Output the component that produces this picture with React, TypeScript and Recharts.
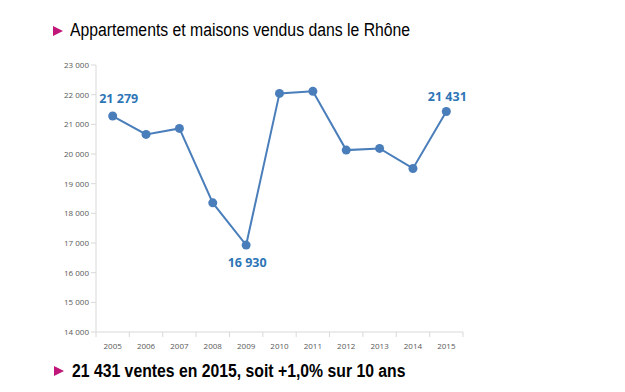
import React from "react";
import { LineChart, Line, XAxis, YAxis, LabelList } from "recharts";

const years = [2005, 2006, 2007, 2008, 2009, 2010, 2011, 2012, 2013, 2014, 2015];
const sales = [21279, 20660, 20863, 18353, 16930, 22043, 22112, 20131, 20188, 19513, 21431];
const labelledYears = [2005, 2009, 2015];
const yTicks = [14000, 15000, 16000, 17000, 18000, 19000, 20000, 21000, 22000, 23000];
const boundaryTicks = [2004.5, 2005.5, 2006.5, 2007.5, 2008.5, 2009.5, 2010.5, 2011.5, 2012.5, 2013.5, 2014.5, 2015.5];
const title = "Appartements et maisons vendus dans le Rhône";
const footer = "21 431 ventes en 2015, soit +1,0% sur 10 ans";

const data = years.map((y, i) => ({ year: y, value: sales[i] }));

const fmt = (v: number) => String(v).replace(/\B(?=(\d{3})+(?!\d))/g, "\u00A0");

const LINE = "#4a7ebb";
const LABEL = "#2e75b6";
const AXIS = "#d9d9d9";
const TICK = "#595959";
const MAGENTA = "#c0167a";

const W = 625;
const H = 392;
const M_LEFT = 56;
const Y_W = 40;
const M_RIGHT = 162;
const PLOT_W = W - M_LEFT - Y_W - M_RIGHT;
const HALF_CAT = PLOT_W / years.length / 2;

const minVal = Math.min(...sales);

const PointLabel = (props: any) => {
  const { x, y, value, index } = props;
  const yr = years[index];
  if (!labelledYears.includes(yr)) return null;
  const below = value === minVal;
  const isLast = index === years.length - 1;
  const dx = index === 0 ? 6 : 1;
  const dy = below ? 22 : isLast ? -11 : -13;
  return (
    <text
      x={x + dx}
      y={y + dy}
      textAnchor="middle"
      fill={LABEL}
      fontSize={12.5}
      fontWeight="bold"
      fontFamily="'Open Sans', 'Liberation Sans', sans-serif"
    >
      {fmt(value)}
    </text>
  );
};

const YearTick = (props: any) => {
  const { x, y, index } = props;
  if (index >= years.length) return null;
  const label = String(years[index]);
  return (
    <text
      x={x + HALF_CAT}
      y={y + 10}
      textAnchor="middle"
      fill={TICK}
      fontSize={8}
      fontFamily="'Open Sans', 'Liberation Sans', sans-serif"
    >
      {label}
    </text>
  );
};

const Arrow = ({ top, left }: { top: number; left: number }) => (
  <svg style={{ position: "absolute", top, left }} width={10} height={10}>
    <polygon points="0,0 10,5 0,10" fill={MAGENTA} />
  </svg>
);

const textStyle: React.CSSProperties = {
  position: "absolute",
  fontFamily: "'Liberation Sans', Arial, sans-serif",
  fontSize: 18,
  color: "#000",
  whiteSpace: "nowrap",
  transform: "scaleX(0.876)",
  transformOrigin: "left center",
  lineHeight: "20px",
};

export default function App() {
  return (
    <div style={{ position: "absolute", left: 0, top: 0, width: W, height: H, background: "#fff", overflow: "hidden" }}>
      <Arrow top={26} left={53} />
      <div style={{ ...textStyle, left: 70, top: 20 }}>{title}</div>
      <div style={{ position: "absolute", left: 0, top: 0 }}>
        <LineChart
          width={W}
          height={H}
          data={data}
          margin={{ top: 65, left: M_LEFT, right: M_RIGHT, bottom: 40 }}
        >
          <XAxis
            dataKey="year"
            type="number"
            domain={[2004.5, 2015.5]}
            ticks={boundaryTicks}
            interval={0}
            tick={<YearTick />}
            tickSize={5}
            tickLine={{ stroke: AXIS }}
            axisLine={{ stroke: AXIS }}
            height={20}
            allowDataOverflow
          />
          <YAxis
            domain={[14000, 23000]}
            ticks={yTicks}
            interval={0}
            tickFormatter={fmt}
            tickSize={5}
            tickLine={{ stroke: AXIS }}
            axisLine={{ stroke: AXIS }}
            tick={{ fill: TICK, fontSize: 8, fontFamily: "'Open Sans', 'Liberation Sans', sans-serif" }}
            tickMargin={2}
            width={Y_W}
          />
          <Line
            dataKey="value"
            stroke={LINE}
            strokeWidth={2}
            dot={{ r: 4.5, fill: LINE, stroke: LINE, strokeWidth: 0 }}
            isAnimationActive={false}
          >
            <LabelList dataKey="value" content={<PointLabel />} />
          </Line>
        </LineChart>
      </div>
      <Arrow top={366} left={54} />
      <div style={{ ...textStyle, left: 72, top: 361, fontWeight: "bold" }}>{footer}</div>
    </div>
  );
}
